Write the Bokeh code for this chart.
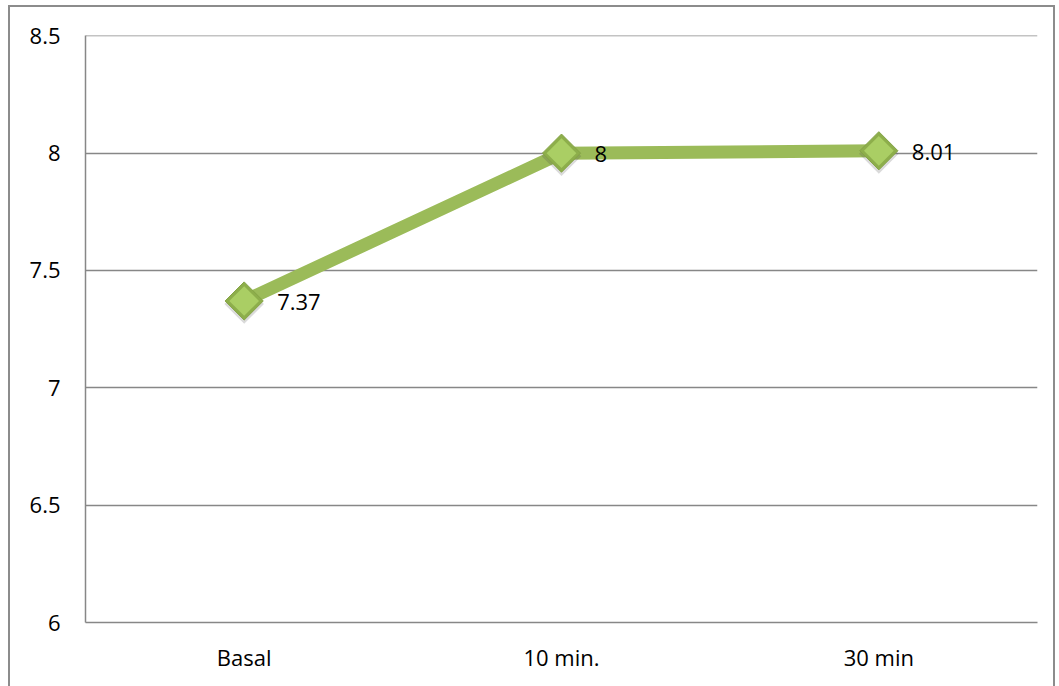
from bokeh.plotting import figure
from bokeh.models import FactorRange, Range1d, FixedTicker, ColumnDataSource
from bokeh.core.properties import value
from bokeh.embed import file_html
from bokeh.resources import INLINE
import numpy as np

# Measurements at each time point
categories = ["Basal", "10 min.", "30 min"]
values = [7.37, 8.0, 8.01]
labels = ["7.37", "8", "8.01"]

# Y axis ticks
y_ticks = [6, 6.5, 7, 7.5, 8, 8.5]
y_tick_labels = ["6", "6.5", "7", "7.5", "8", "8.5"]

FONT = "Open Sans"
GRID = "#878787"
GREEN = "#9BBB59"

p = figure(
    width=1047, height=686,
    x_range=FactorRange(factors=categories, range_padding=0),
    y_range=Range1d(6, 8.5012),
    output_backend="svg", toolbar_location=None,
    min_border_left=75, min_border_top=28, min_border_right=20, min_border_bottom=71,
)
p.styles = {"border": "2px solid #8c8c8c", "margin-left": "8px", "margin-top": "5px"}
p.outline_line_color = None
p.background_fill_color = "white"
p.border_fill_color = "white"

# grid
p.xgrid.grid_line_color = None
p.ygrid.grid_line_color = GRID
p.ygrid.grid_line_width = 1.5
p.ygrid.ticker = FixedTicker(ticks=y_ticks)

# y axis
p.yaxis.ticker = FixedTicker(ticks=y_ticks)
p.yaxis.major_label_overrides = {t: s for t, s in zip(y_ticks, y_tick_labels)}
p.yaxis.axis_line_color = GRID
p.yaxis.axis_line_width = 1.5
p.yaxis.major_tick_line_color = None
p.yaxis.minor_tick_line_color = None
p.yaxis.major_tick_out = 0
p.yaxis.major_label_standoff = 25
p.yaxis.major_label_text_font = FONT
p.yaxis.major_label_text_font_size = "22px"
p.yaxis.major_label_text_color = "black"

# x axis
p.xaxis.axis_line_color = GRID
p.xaxis.axis_line_width = 1.5
p.xaxis.major_tick_line_color = None
p.xaxis.minor_tick_line_color = None
p.xaxis.major_tick_out = 0
p.xaxis.major_label_standoff = 19
p.xaxis.major_label_text_font = FONT
p.xaxis.major_label_text_font_size = "22px"
p.xaxis.major_label_text_color = "black"

src = ColumnDataSource(dict(cat=categories, val=values, lab=labels,
                            shadow=[v - 0.013 for v in values]))

# series line
p.line("cat", "val", source=src, line_color=GREEN, line_width=13)

# marker shadow, body and highlight
p.scatter("cat", "shadow", source=src, marker="square", angle=np.pi / 4, size=28,
          fill_color="#444444", fill_alpha=0.2, line_color=None)
p.scatter("cat", "val", source=src, marker="square", angle=np.pi / 4, size=27,
          fill_color="#8DAE4B", line_color="#84A345", line_width=1)
p.scatter("cat", "val", source=src, marker="square", angle=np.pi / 4, size=21,
          fill_color="#AACE64", line_color=None)

# value labels
p.text("cat", "val", text="lab", source=src, x_offset=33, y_offset=1,
       text_font=value(FONT), text_font_size="22px", text_color="black",
       text_baseline="middle", text_align="left")

open("out.html", "w").write(file_html(p, INLINE))
